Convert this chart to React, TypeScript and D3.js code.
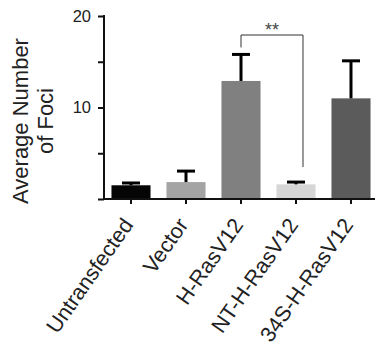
import React, { useEffect, useRef } from 'react';
import * as d3 from 'd3';

const categories = ['Untransfected', 'Vector', 'H-RasV12', 'NT-H-RasV12', '34S-H-RasV12'];
const means = [1.5, 1.85, 12.9, 1.6, 11.0];
const errors = [0.25, 1.2, 2.9, 0.25, 4.1];
const barColors = ['#050505', '#a4a4a4', '#808080', '#d6d6d6', '#5b5b5b'];
const yTicks = [0, 5, 10, 15, 20];
const yTickLabels = ['', '', '10', '', '20'];
const yTitle = ['Average Number', 'of Foci'];
const signif = { from: 'H-RasV12', to: 'NT-H-RasV12', label: '**' };

const width = 375;
const height = 354;
const axisX = 104;
const axisY = 199;
const font = '"Liberation Sans", Arial, sans-serif';

const xScale = d3.scaleBand()
    .domain(categories)
    .range([axisX, 378])
    .paddingInner(0.29)
    .paddingOuter(0.136);

const yScale = d3.scaleLinear()
    .domain([0, 20])
    .range([axisY, 16]);

export default function App() {
    const yAxisRef = useRef(null);

    useEffect(() => {
        const yAxis = d3.axisLeft(yScale)
            .tickValues(yTicks)
            .tickSize(6)
            .tickPadding(7)
            .tickFormat((d, i) => yTickLabels[i]);
        const g = d3.select(yAxisRef.current);
        g.call(yAxis);
        g.select('.domain').remove();
        g.selectAll('line').attr('stroke', '#111').attr('stroke-width', 2);
        g.selectAll('text')
            .attr('font-size', 16.5)
            .attr('font-family', font)
            .attr('fill', '#222');
    }, []);

    const bw = xScale.bandwidth();
    const cx = (c: string) => (xScale(c) as number) + bw / 2;
    const capW = 18;

    const x1 = cx(signif.from);
    const x2 = cx(signif.to) + 7;
    const fromIdx = categories.indexOf(signif.from);
    const toIdx = categories.indexOf(signif.to);
    const bracketY = 35;

    return (
        <svg width={width} height={height} style={{ position: 'absolute', left: 0, top: 0, background: '#fff' }}>
            {categories.map((c, i) => (
                <g key={c}>
                    <rect
                        x={xScale(c)}
                        y={yScale(means[i])}
                        width={bw}
                        height={axisY - yScale(means[i])}
                        fill={barColors[i]}
                    />
                    <line x1={cx(c)} x2={cx(c)} y1={yScale(means[i])} y2={yScale(means[i] + errors[i])}
                        stroke="#000" strokeWidth={3} />
                    <line x1={cx(c) - capW / 2} x2={cx(c) + capW / 2}
                        y1={yScale(means[i] + errors[i])} y2={yScale(means[i] + errors[i])}
                        stroke="#000" strokeWidth={3} />
                </g>
            ))}

            <g ref={yAxisRef} transform={`translate(${axisX},0)`} />
            <line x1={axisX} x2={axisX} y1={yScale(20) - 1} y2={axisY + 1} stroke="#111" strokeWidth={2} />
            <line x1={axisX - 1} x2={378} y1={axisY} y2={axisY} stroke="#111" strokeWidth={2} />

            {categories.map(c => (
                <g key={'t' + c}>
                    <line x1={cx(c)} x2={cx(c)} y1={axisY} y2={axisY + 5} stroke="#111" strokeWidth={2} />
                    <text
                        transform={`translate(${cx(c) + 3},${axisY + 26}) rotate(-55)`}
                        textAnchor="end"
                        fontSize={21.5}
                        fontFamily={font}
                        fill="#222"
                    >{c}</text>
                </g>
            ))}

            <text transform={`translate(28,121) rotate(-90)`} textAnchor="middle"
                fontSize={22} fontFamily={font} fill="#222">
                <tspan x={0} dy={0}>{yTitle[0]}</tspan>
                <tspan x={0} dy={25}>{yTitle[1]}</tspan>
            </text>

            <path
                d={`M${x1},${yScale(means[fromIdx] + errors[fromIdx]) - 7}V${bracketY}H${x2}V${yScale(means[toIdx] + errors[toIdx]) - 15}`}
                fill="none" stroke="#333" strokeWidth={1}
            />
            <text x={(x1 + x2) / 2} y={bracketY + 1} textAnchor="middle" fontSize={18}
                fontFamily={font} fill="#444">{signif.label}</text>
        </svg>
    );
}
